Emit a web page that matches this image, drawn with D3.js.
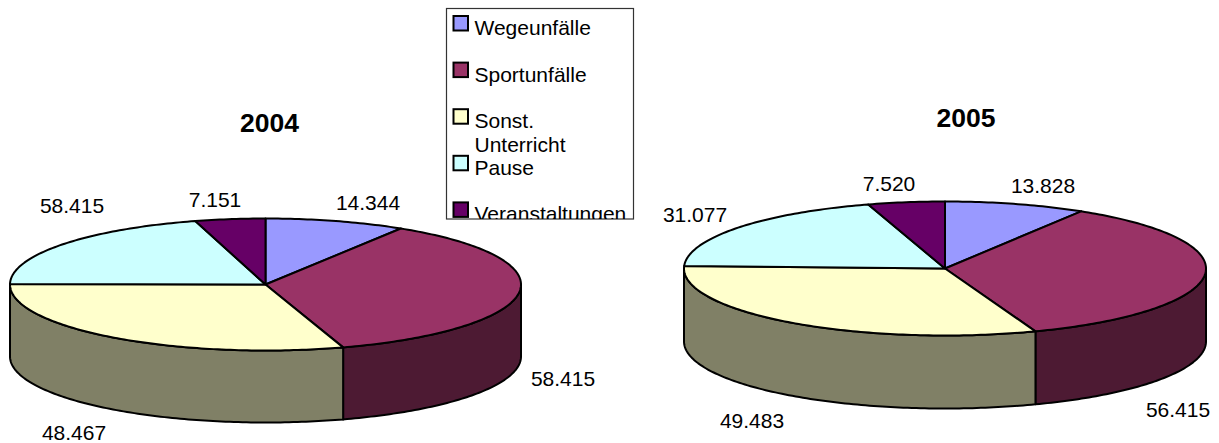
<!DOCTYPE html>
<html>
<head>
<meta charset="utf-8">
<script src="https://cdn.jsdelivr.net/npm/d3@7"></script>
<style>
  html, body { margin: 0; padding: 0; background: #fff; }
  svg { display: block; }
  text { font-family: "Liberation Sans", Arial, sans-serif; fill: #000; }
</style>
</head>
<body>
<svg width="1219" height="443"></svg>
<script>
const categories = ["Wegeunfälle", "Sportunfälle", "Sonst. Unterricht", "Pause", "Veranstaltungen"];

// printed labels
const labels2004 = ["14.344", "58.415", "48.467", "58.415", "7.151"];
const labels2005 = ["13.828", "56.415", "49.483", "31.077", "7.520"];

// slice sizes, the 2004 Pause slice is drawn far smaller than its printed label says
const values2004 = [14.344, 58.415, 48.467, 33.0, 7.151];
const values2005 = [13.828, 56.415, 49.483, 31.077, 7.52];

const topColors = ["#9999ff", "#993366", "#ffffcc", "#ccffff", "#660066"];
const sideColors = ["#4d4d80", "#4d1a33", "#808066", "#668080", "#330033"];

const svg = d3.select("svg");

const pie = d3.pie().sort(null).value(d => d);
const line = d3.line();

function drawPie(cfg) {
    const g = svg.append("g").attr("class", "pie-" + cfg.title);
    const point = (a, drop) => [
        cfg.cx + cfg.rx * Math.sin(a),
        cfg.cy - cfg.ry * Math.cos(a) + (drop || 0)
    ];
    const arcPoints = (a0, a1, drop) => {
        const n = Math.max(2, Math.ceil((a1 - a0) * 60));
        return d3.range(n + 1).map(i => point(a0 + (a1 - a0) * i / n, drop));
    };
    const slices = pie(cfg.values);

    // outer wall, only the front half shows
    slices.forEach((s, i) => {
        const a0 = Math.max(s.startAngle, Math.PI / 2);
        const a1 = Math.min(s.endAngle, Math.PI * 3 / 2);
        if (a1 <= a0) return;
        const pts = arcPoints(a0, a1, 0).concat(arcPoints(a0, a1, cfg.depth).reverse());
        g.append("path")
            .attr("d", line(pts) + "Z")
            .attr("fill", sideColors[i])
            .attr("stroke", "#000")
            .attr("stroke-width", 2)
            .attr("stroke-linejoin", "round");
    });

    // top face
    slices.forEach((s, i) => {
        const pts = [[cfg.cx, cfg.cy]].concat(arcPoints(s.startAngle, s.endAngle, 0));
        g.append("path")
            .attr("d", line(pts) + "Z")
            .attr("fill", topColors[i])
            .attr("stroke", "#000")
            .attr("stroke-width", 2)
            .attr("stroke-linejoin", "round");
    });

    g.selectAll("text.value")
        .data(cfg.labels)
        .enter()
        .append("text")
            .attr("class", "value")
            .attr("x", (d, i) => cfg.labelPos[i][0])
            .attr("y", (d, i) => cfg.labelPos[i][1])
            .attr("text-anchor", "middle")
            .attr("font-size", 21)
            .text(d => d);

    g.append("text")
        .attr("x", cfg.titleX)
        .attr("y", cfg.titleY)
        .attr("text-anchor", "middle")
        .attr("font-size", 26.5)
        .attr("font-weight", "bold")
        .text(cfg.title);
}

drawPie({
    title: "2004", values: values2004, labels: labels2004,
    cx: 265.5, cy: 284.5, rx: 255.5, ry: 66, depth: 72,
    titleX: 269.5, titleY: 132,
    labelPos: [[368, 210], [563, 386], [74, 440], [72, 213], [215, 207]]
});

drawPie({
    title: "2005", values: values2005, labels: labels2005,
    cx: 945, cy: 268.5, rx: 261, ry: 67, depth: 73,
    titleX: 966, titleY: 127,
    labelPos: [[1043, 193], [1178, 417], [752, 428], [695, 222], [889, 191]]
});

// legend, the box cuts off the last entry like the original does
const legendLines = [["Wegeunfälle"], ["Sportunfälle"], ["Sonst.", "Unterricht"], ["Pause"], ["Veranstaltungen"]];
const legend = svg.append("g").attr("class", "legend");
const legendStep = 46.6;

svg.append("clipPath").attr("id", "legend-clip")
    .append("rect").attr("x", 446).attr("y", 8).attr("width", 187).attr("height", 211);

legend.append("rect")
    .attr("x", 446.5).attr("y", 8.5).attr("width", 187).attr("height", 210.5)
    .attr("fill", "#fff").attr("stroke", "#333").attr("stroke-width", 1.2);

const entries = legend.append("g").attr("clip-path", "url(#legend-clip)")
    .selectAll("g")
    .data(categories)
    .enter()
    .append("g")
    .attr("transform", (d, i) => `translate(453.5,${16 + i * legendStep})`);

entries.append("rect")
    .attr("width", 14.5).attr("height", 14.5)
    .attr("fill", (d, i) => topColors[i])
    .attr("stroke", "#000").attr("stroke-width", 2);

entries.each(function(d, i) {
    d3.select(this).selectAll("text")
        .data(legendLines[i])
        .enter()
        .append("text")
            .attr("x", 21)
            .attr("y", (t, j) => 19 + j * 24)
            .attr("font-size", 21)
            .text(t => t);
});
</script>
</body>
</html>
